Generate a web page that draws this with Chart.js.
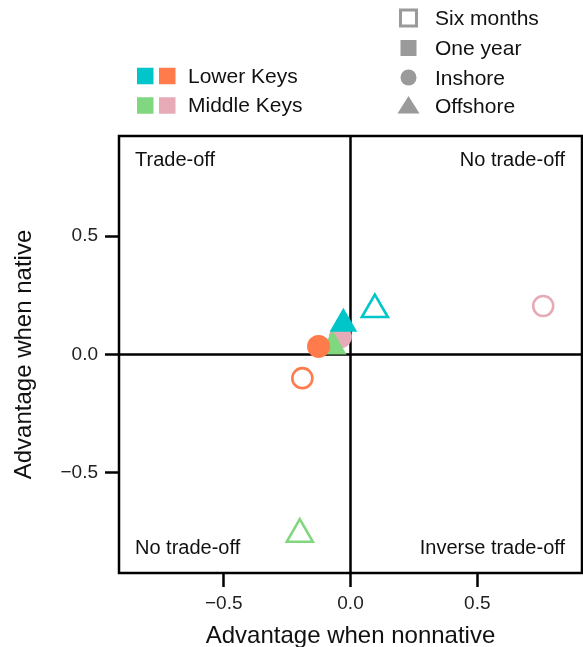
<!DOCTYPE html>
<html>
<head>
<meta charset="utf-8">
<script src="https://cdn.jsdelivr.net/npm/chart.js@4.4.1/dist/chart.umd.min.js"></script>
<style>
  html, body { margin: 0; padding: 0; background: #fff; }
  #wrap { width: 583px; height: 647px; }
</style>
</head>
<body>
<div id="wrap"><canvas id="chart" width="583" height="647"></canvas></div>
<script>
/* --- data (drawing order: later points on top) --- */
const pointNames    = ['MK offshore 6m', 'MK inshore 6m', 'LK offshore 6m', 'LK inshore 6m',
                       'MK inshore 1y', 'MK offshore 1y', 'LK inshore 1y', 'LK offshore 1y'];
const pointRegion   = ['Middle Keys', 'Middle Keys', 'Lower Keys', 'Lower Keys',
                       'Middle Keys', 'Middle Keys', 'Lower Keys', 'Lower Keys'];
const pointHabitat  = ['Offshore', 'Inshore', 'Offshore', 'Inshore',
                       'Inshore', 'Offshore', 'Inshore', 'Offshore'];
const pointDuration = ['Six months', 'Six months', 'Six months', 'Six months',
                       'One year', 'One year', 'One year', 'One year'];
const advNonnative  = [-0.20, 0.76, 0.096, -0.19, -0.04, -0.07, -0.126, -0.028];
const advNative     = [-0.76, 0.205, 0.19, -0.10, 0.075, 0.034, 0.034, 0.13];

const xTicks = [-0.5, 0, 0.5];
const yTicks = [-0.5, 0, 0.5];
const xTitle = 'Advantage when nonnative';
const yTitle = 'Advantage when native';
const quadrantLabels = ['Trade-off', 'No trade-off', 'No trade-off', 'Inverse trade-off'];
const regionLabels   = ['Lower Keys', 'Middle Keys'];
const shapeLabels    = ['Six months', 'One year', 'Inshore', 'Offshore'];

/* colours per region + habitat */
const colours = {
  'Lower Keys|Offshore':  '#00C6C9',
  'Lower Keys|Inshore':   '#FF7B4C',
  'Middle Keys|Offshore': '#80D77F',
  'Middle Keys|Inshore':  '#E7AAB7'
};
const legendGrey = '#9a9a9a';
const FONT = "'Liberation Sans', Arial, Helvetica, sans-serif";
Chart.defaults.font.family = FONT;
Chart.defaults.color = '#111';

const colourOf = i => colours[pointRegion[i] + '|' + pointHabitat[i]];
const isOpen = i => pointDuration[i] === 'Six months';
const isTri = i => pointHabitat[i] === 'Offshore';

const fmt = v => v === 0 ? '0.0' : (v < 0 ? '\u2212' : '') + Math.abs(v).toFixed(1);

/* frame, zero lines, quadrant text */
const framePlugin = {
  id: 'frame',
  beforeDatasetsDraw(chart) {
    const { ctx, chartArea: a, scales: { x, y } } = chart;
    ctx.save();
    ctx.strokeStyle = '#000';
    ctx.lineWidth = 2.5;
    const x0 = x.getPixelForValue(0), y0 = y.getPixelForValue(0);
    ctx.beginPath();
    ctx.moveTo(x0, a.top); ctx.lineTo(x0, a.bottom);
    ctx.moveTo(a.left, y0); ctx.lineTo(a.right, y0);
    ctx.stroke();
    ctx.strokeRect(a.left, a.top, a.right - a.left, a.bottom - a.top);

    ctx.fillStyle = '#111';
    ctx.font = '20px ' + FONT;
    ctx.textBaseline = 'middle';
    ctx.textAlign = 'left';
    ctx.fillText(quadrantLabels[0], a.left + 16, a.top + 24);
    ctx.fillText(quadrantLabels[2], a.left + 16, a.bottom - 25);
    ctx.textAlign = 'right';
    ctx.fillText(quadrantLabels[1], a.right - 17, a.top + 24);
    ctx.fillText(quadrantLabels[3], a.right - 17, a.bottom - 25);
    ctx.restore();
  }
};

/* two-part legend above the plot */
const legendPlugin = {
  id: 'keyLegend',
  afterDraw(chart) {
    const ctx = chart.ctx;
    ctx.save();
    ctx.font = '21px ' + FONT;
    ctx.fillStyle = '#111';
    ctx.textBaseline = 'middle';
    ctx.textAlign = 'left';

    // region colours
    const sq = 16.5;
    const rows = [76, 105.5];
    const pairs = [['Lower Keys|Offshore', 'Lower Keys|Inshore'],
                   ['Middle Keys|Offshore', 'Middle Keys|Inshore']];
    rows.forEach((cy, r) => {
      ctx.fillStyle = colours[pairs[r][0]];
      ctx.fillRect(137, cy - sq / 2, sq, sq);
      ctx.fillStyle = colours[pairs[r][1]];
      ctx.fillRect(159, cy - sq / 2, sq, sq);
      ctx.fillStyle = '#111';
      ctx.fillText(regionLabels[r], 188, cy + 1);
    });

    // shape / fill key
    const cx = 408.5;
    const ys = [18, 48, 77.5, 105.5];
    ctx.fillStyle = legendGrey;
    ctx.strokeStyle = legendGrey;
    ctx.lineWidth = 3;
    ctx.strokeRect(cx - 8, ys[0] - 8, 16, 16);
    ctx.fillRect(cx - 8, ys[1] - 8, 16, 16);
    ctx.beginPath();
    ctx.arc(cx, ys[2], 8, 0, Math.PI * 2);
    ctx.fill();
    ctx.beginPath();
    ctx.moveTo(cx, ys[3] - 9.5);
    ctx.lineTo(cx + 11, ys[3] + 8);
    ctx.lineTo(cx - 11, ys[3] + 8);
    ctx.closePath();
    ctx.fill();
    ctx.fillStyle = '#111';
    shapeLabels.forEach((t, i) => ctx.fillText(t, 435, ys[i] + 1.5));
    ctx.restore();
  }
};

const idx = pointNames.map((_, i) => i);

new Chart(document.getElementById('chart'), {
  type: 'scatter',
  data: {
    datasets: [{
      data: idx.map(i => ({ x: advNonnative[i], y: advNative[i] })),
      pointStyle: idx.map(i => isTri(i) ? 'triangle' : 'circle'),
      radius: idx.map(i => isTri(i) ? (isOpen(i) ? 15 : 16) : (isOpen(i) ? 10 : 11.5)),
      borderWidth: idx.map(i => isOpen(i) ? 2.6 : 0),
      borderColor: idx.map(colourOf),
      backgroundColor: idx.map(i => isOpen(i) ? 'rgba(0,0,0,0)' : colourOf(i)),
      clip: false
    }]
  },
  options: {
    responsive: false,
    animation: false,
    events: [],
    layout: { autoPadding: false, padding: { top: 136, right: 1, left: 0, bottom: 0 } },
    plugins: { legend: { display: false }, tooltip: { enabled: false } },
    scales: {
      x: {
        type: 'linear', min: -0.913, max: 0.913,
        afterBuildTicks: s => { s.ticks = xTicks.map(v => ({ value: v })); },
        afterFit: s => { s.height = 74; },
        border: { display: false },
        grid: { drawOnChartArea: false, tickLength: 14, tickWidth: 2.5, tickColor: '#000' },
        ticks: { callback: v => fmt(v), font: { size: 19 }, color: '#222', padding: 5, maxRotation: 0 },
        title: { display: true, text: xTitle, font: { size: 24 }, color: '#111', padding: { top: 0, bottom: -4 } }
      },
      y: {
        type: 'linear', min: -0.924, max: 0.924,
        afterBuildTicks: s => { s.ticks = yTicks.map(v => ({ value: v })); },
        afterFit: s => { s.width = 119; },
        border: { display: false },
        grid: { drawOnChartArea: false, tickLength: 14, tickWidth: 2.5, tickColor: '#000' },
        ticks: { callback: v => fmt(v), font: { size: 19 }, color: '#222', padding: 7 },
        title: { display: true, text: yTitle, font: { size: 24 }, color: '#111', padding: { top: 10, bottom: 0 } }
      }
    }
  },
  plugins: [framePlugin, legendPlugin]
});
</script>
</body>
</html>
